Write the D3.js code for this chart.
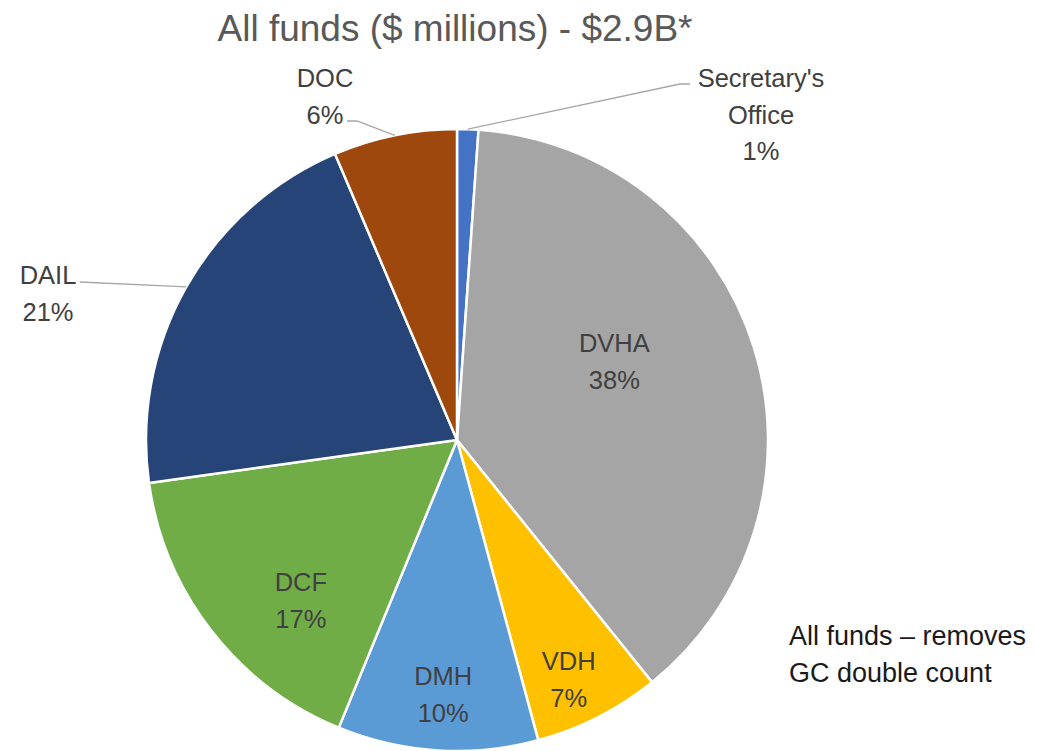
<!DOCTYPE html>
<html>
<head>
<meta charset="utf-8">
<script src="https://cdn.jsdelivr.net/npm/d3@7/dist/d3.min.js"></script>
<style>
  html, body { margin: 0; padding: 0; background: #fff; }
  svg { display: block; font-family: "Liberation Sans", Arial, sans-serif; }
</style>
</head>
<body>
<svg id="chart" width="1037" height="751"></svg>
<script>
// ---- Data ($ millions) ----
const categories = ["Secretary's Office", "DVHA", "VDH", "DMH", "DCF", "DAIL", "DOC"];
const values = [32, 1105, 191, 302, 481, 603, 186];
const colors = ["#4472C4", "#A5A5A5", "#FFC000", "#5B9BD5", "#70AD47", "#264478", "#9E480E"];
const labelLines = [["Secretary's", "Office"], ["DVHA"], ["VDH"], ["DMH"], ["DCF"], ["DAIL"], ["DOC"]];
const titleText = "All funds ($ millions) - $2.9B*";
const noteLines = ["All funds \u2013 removes", "GC double count"];

// ---- Layout ----
const svg = d3.select("#chart");
const cx = 457, cy = 440, R = 311;
const lineH = 36.5;
// label placement: inside = [angle offset (deg), radius fraction]; outside = text anchor point + leader elbow
const labelLayout = [
  { outside: true, tx: 761, ty: 87, elbow: [680, 84], end: [690, 84] },
  { inside: true, da: -9, rf: 0.565 },
  { inside: true, da: 2, rf: 0.85 },
  { inside: true, da: -0.5, rf: 0.82 },
  { inside: true, da: -8, rf: 0.72 },
  { outside: true, tx: 48, ty: 284, elbow: [80, 282], end: [80, 282] },
  { outside: true, tx: 325, ty: 87, elbow: [357, 121], end: [347, 121] }
];

const total = d3.sum(values);
const pie = d3.pie().sort(null).value(d => d).startAngle(0).endAngle(2 * Math.PI);
const arcs = pie(values);
const arc = d3.arc().innerRadius(0).outerRadius(R);

const g = svg.append("g").attr("transform", `translate(${cx},${cy})`);
g.selectAll("path.slice")
  .data(arcs)
  .join("path")
  .attr("class", "slice")
  .attr("d", arc)
  .attr("fill", (d, i) => colors[i])
  .attr("stroke", "#fff")
  .attr("stroke-width", 2.5)
  .attr("stroke-linejoin", "round");

const pct = v => Math.round(v / total * 100) + "%";
const textColor = "#404040";
const fs = 25.5;

arcs.forEach((a, i) => {
  const L = labelLayout[i];
  const lines = labelLines[i].concat([pct(values[i])]);
  const mid = (a.startAngle + a.endAngle) / 2;
  if (L.inside) {
    const ang = mid + L.da * Math.PI / 180;
    const r = R * L.rf;
    const x = cx + r * Math.sin(ang);
    const y = cy - r * Math.cos(ang);
    const n = lines.length;
    lines.forEach((t, k) => {
      svg.append("text")
        .attr("x", x)
        .attr("y", y + (k - (n - 1) / 2) * lineH)
        .attr("dy", "0.35em")
        .attr("text-anchor", "middle")
        .attr("fill", textColor)
        .attr("font-size", fs)
        .text(t);
    });
  } else {
    const px = cx + R * Math.sin(mid);
    const py = cy - R * Math.cos(mid);
    svg.append("polyline")
      .attr("points", [[px, py], L.elbow, L.end].map(p => p.join(",")).join(" "))
      .attr("fill", "none")
      .attr("stroke", "#A6A6A6")
      .attr("stroke-width", 1.3);
    lines.forEach((t, k) => {
      svg.append("text")
        .attr("x", L.tx)
        .attr("y", L.ty + k * lineH)
        .attr("text-anchor", "middle")
        .attr("fill", textColor)
        .attr("font-size", fs)
        .text(t);
    });
  }
});

// Title
svg.append("text")
  .attr("x", 455)
  .attr("y", 41)
  .attr("text-anchor", "middle")
  .attr("fill", "#595959")
  .attr("font-size", 37)
  .text(titleText);

// Note
noteLines.forEach((t, k) => {
  svg.append("text")
    .attr("x", 789)
    .attr("y", 645 + k * 37)
    .attr("fill", "#1a1a1a")
    .attr("font-size", 27)
    .text(t);
});
</script>
</body>
</html>
